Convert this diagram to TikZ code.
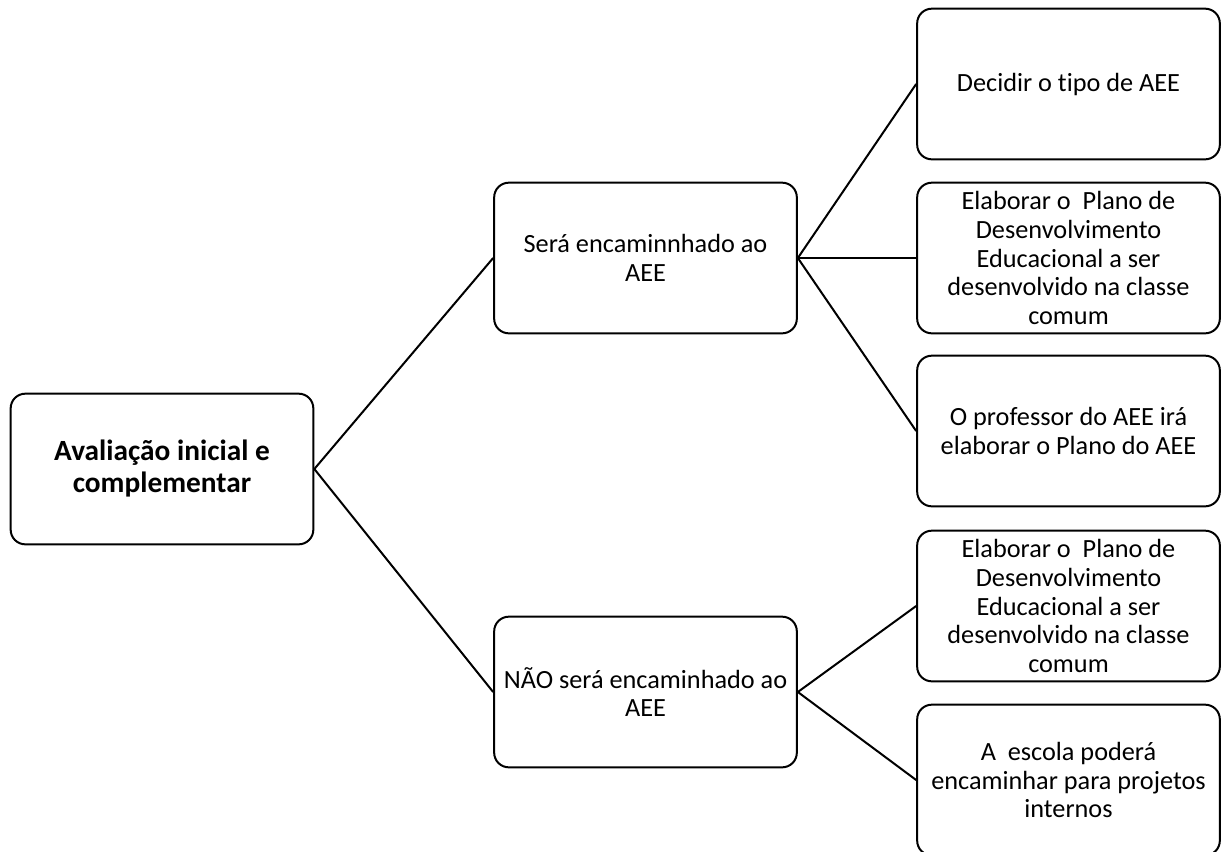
\documentclass[tikz,border=0pt]{standalone}
\usepackage{fontspec}
\setmainfont{Carlito}[Ligatures=NoCommon]
\usepackage{tikz}

\begin{document}
\begin{tikzpicture}[
            x=0.75pt, y=-0.75pt,
            box/.style={
                draw, line width=1.5pt, rounded corners=11pt,
                minimum width=227pt, minimum height=113pt,
                align=center, inner sep=1pt,
                font=\fontsize{19.7}{21.5}\selectfont
            },
            link/.style={line width=1.5pt}
        ]

            \useasboundingbox (0,0) rectangle (1222,851);

            % Root
            \node[box, font=\fontsize{22}{24}\selectfont\bfseries] (aval) at (162,469) {Avaliação inicial e\\complementar};

            % Middle column
            \node[box] (enc) at (645.5,258) {Será encaminnhado ao\\AEE};
            \node[box] (naoenc) at (645.5,692) {NÃO será encaminhado ao\\AEE};

            % Right column
            \node[box] (tipo) at (1068.5,84) {Decidir o tipo de AEE};
            \node[box] (pdeA) at (1068.5,258) {Elaborar o~ Plano de\\Desenvolvimento\\Educacional a ser\\desenvolvido na classe\\comum};
            \node[box] (plano) at (1068.5,431) {O professor do AEE irá\\elaborar o Plano do AEE};
            \node[box] (pdeB) at (1068.5,606) {Elaborar o~ Plano de\\Desenvolvimento\\Educacional a ser\\desenvolvido na classe\\comum};
            \node[box] (proj) at (1068.5,780) {A~ escola poderá\\encaminhar para projetos\\internos};

            % Connectors
            \draw[link] (aval.east) -- (enc.west);
            \draw[link] (aval.east) -- (naoenc.west);
            \draw[link] (enc.east) -- (tipo.west);
            \draw[link] (enc.east) -- (pdeA.west);
            \draw[link] (enc.east) -- (plano.west);
            \draw[link] (naoenc.east) -- (pdeB.west);
            \draw[link] (naoenc.east) -- (proj.west);

        \end{tikzpicture}
\end{document}
